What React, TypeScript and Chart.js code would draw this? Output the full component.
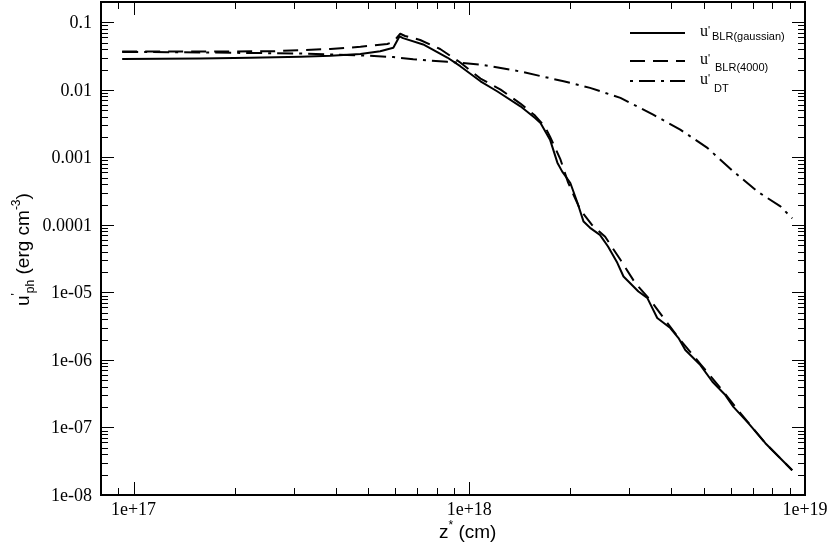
import React, { useEffect, useRef } from "react";
import { Chart, registerables } from "chart.js";

Chart.register(...registerables);

// ---------- axis ranges and tick labels ----------
const X_MIN = 8e16;
const X_MAX = 1e19;
const Y_MIN = 1e-8;
const Y_MAX = 0.2;

const xTickValues = [1e17, 1e18, 1e19];
const xTickLabels = ["1e+17", "1e+18", "1e+19"];
const yTickValues = [1e-8, 1e-7, 1e-6, 1e-5, 1e-4, 1e-3, 1e-2, 1e-1];
const yTickLabels = ["1e-08", "1e-07", "1e-06", "1e-05", "0.0001", "0.001", "0.01", "0.1"];

// ---------- series: u'BLR(gaussian) ----------
const gaussX = [
  9.25e16, 1.58e17, 2.23e17, 3.14e17, 3.86e17, 4.74e17, 5.43e17, 5.94e17, 6.2e17, 6.35e17,
  7.29e17, 8.6e17, 9.4e17, 1.08e18, 1.21e18, 1.42e18, 1.57e18, 1.63e18, 1.74e18, 1.83e18,
  1.89e18, 2.0e18, 2.1e18, 2.19e18, 2.29e18, 2.45e18, 2.59e18, 2.76e18, 2.88e18, 3.19e18,
  3.39e18, 3.63e18, 3.97e18, 4.2e18, 4.4e18, 4.88e18, 5.3e18, 5.79e18, 6.12e18, 6.78e18,
  7.62e18, 9.16e18,
];
const gaussY = [
  0.0286, 0.0292, 0.0299, 0.0309, 0.032, 0.034, 0.0374, 0.042, 0.062, 0.0583,
  0.047, 0.0301, 0.0224, 0.0134, 0.00953, 0.00571, 0.00384, 0.00324, 0.00183, 8.35e-4,
  6.2e-4, 4.17e-4, 2.13e-4, 1.12e-4, 9.05e-5, 7.13e-5, 4.78e-5, 2.74e-5, 1.72e-5, 1.03e-5,
  8.3e-6, 4.19e-6, 2.97e-6, 2.11e-6, 1.4e-6, 8.4e-7, 4.75e-7, 3.02e-7, 2.02e-7, 1.16e-7,
  5.85e-8, 2.33e-8,
];

// ---------- series: u'BLR(4000) ----------
const blr4000X = [
  9.25e16, 1.58e17, 2.56e17, 3.14e17, 3.86e17, 4.74e17, 5.7e17, 5.94e17, 6.23e17, 6.44e17,
  7.14e17, 8.19e17, 9.4e17, 1.08e18, 1.24e18, 1.42e18, 1.57e18, 1.68e18, 1.74e18, 1.87e18,
  1.97e18, 2.14e18, 2.32e18, 2.54e18, 2.82e18, 3.12e18, 3.46e18, 3.83e18, 4.25e18, 4.88e18,
  5.6e18, 6.42e18, 7.62e18, 9.16e18,
];
const blr4000Y = [
  0.037, 0.037, 0.0372, 0.0387, 0.0403, 0.0434, 0.0478, 0.0512, 0.0678, 0.0628,
  0.0548, 0.0403, 0.0254, 0.0147, 0.0101, 0.00626, 0.00416, 0.00285, 0.00203, 9.24e-4,
  4.22e-4, 1.68e-4, 1.0e-4, 6.67e-5, 3.04e-5, 1.38e-5, 7.74e-6, 3.91e-6, 1.98e-6, 8.7e-7,
  3.83e-7, 1.63e-7, 5.85e-8, 2.33e-8,
];

// ---------- series: u'DT ----------
const dtX = [
  9.25e16, 1.58e17, 3.14e17, 4.74e17, 5.94e17, 6.81e17, 8.6e17, 1.08e18, 1.42e18, 1.91e18,
  2.29e18, 2.82e18, 3.53e18, 4.25e18, 5.12e18, 6.12e18, 7.21e18, 8.45e18, 9.16e18,
];
const dtY = [
  0.0365, 0.0358, 0.0345, 0.0324, 0.0306, 0.0284, 0.026, 0.0237, 0.0187, 0.0134,
  0.0107, 0.0076, 0.0043, 0.00258, 0.00138, 6.19e-4, 3.13e-4, 1.88e-4, 1.25e-4,
];

const legendLabels = ["BLR(gaussian)", "BLR(4000)", "DT"];

const SANS = '"Liberation Sans", Arial, Helvetica, sans-serif';
const SERIF = '"Liberation Serif", "Times New Roman", Times, serif';

const DASHED = [15, 8];
const DASHDOT = [16, 6, 3, 6];

type Part = { t: string; s: number; f: string; dy?: number };

function drawRich(ctx: CanvasRenderingContext2D, parts: Part[], x: number, y: number) {
  let cx = x;
  for (const p of parts) {
    ctx.font = `${p.s}px ${p.f}`;
    ctx.fillText(p.t, cx, y + (p.dy || 0));
    cx += ctx.measureText(p.t).width;
  }
}

const zip = (xs: number[], ys: number[]) => xs.map((x, i) => ({ x, y: ys[i] }));

const decorPlugin = {
  id: "decor",
  afterDraw(chart: any) {
    const ctx: CanvasRenderingContext2D = chart.ctx;
    const { left, right, top, bottom } = chart.chartArea;
    const xs = chart.scales.x;
    const ys = chart.scales.y;
    ctx.save();
    ctx.strokeStyle = "#000";
    ctx.fillStyle = "#000";

    // inward ticks, all four sides
    ctx.lineWidth = 1;
    ctx.beginPath();
    for (let d = 16; d <= 19; d++) {
      for (let m = 1; m <= 9; m++) {
        const v = m * Math.pow(10, d);
        if (v < X_MIN * 0.999 || v > X_MAX * 1.001) continue;
        const px = Math.round(xs.getPixelForValue(v)) + 0.5;
        const len = m === 1 ? 13 : 7;
        ctx.moveTo(px, bottom);
        ctx.lineTo(px, bottom - len);
        ctx.moveTo(px, top);
        ctx.lineTo(px, top + len);
      }
    }
    for (let d = -8; d <= -1; d++) {
      for (let m = 1; m <= 9; m++) {
        const v = m * Math.pow(10, d);
        if (v < Y_MIN * 0.999 || v > Y_MAX * 1.001) continue;
        const py = Math.round(ys.getPixelForValue(v)) + 0.5;
        const len = m === 1 ? 13 : 7;
        ctx.moveTo(left, py);
        ctx.lineTo(left + len, py);
        ctx.moveTo(right, py);
        ctx.lineTo(right - len, py);
      }
    }
    ctx.stroke();

    // frame
    ctx.lineWidth = 2;
    ctx.strokeRect(left, top, right - left, bottom - top);

    // tick labels
    ctx.font = `18px ${SERIF}`;
    ctx.textBaseline = "alphabetic";
    ctx.textAlign = "center";
    xTickValues.forEach((v, i) => {
      ctx.fillText(xTickLabels[i], xs.getPixelForValue(v), bottom + 20);
    });
    ctx.textAlign = "right";
    yTickValues.forEach((v, i) => {
      ctx.fillText(yTickLabels[i], left - 9, ys.getPixelForValue(v) + 6);
    });

    // axis titles
    ctx.textAlign = "left";
    drawRich(
      ctx,
      [
        { t: "z", s: 19, f: SANS },
        { t: "*", s: 12, f: SANS, dy: -9 },
        { t: " (cm)", s: 19, f: SANS },
      ],
      439,
      538
    );
    ctx.save();
    ctx.translate(29, 306);
    ctx.rotate(-Math.PI / 2);
    drawRich(
      ctx,
      [
        { t: "u", s: 19, f: SANS },
        { t: "'", s: 12, f: SANS, dy: -9 },
        { t: "ph", s: 12, f: SANS, dy: 5 },
        { t: " (erg cm", s: 19, f: SANS },
        { t: "-3", s: 12, f: SANS, dy: -9 },
        { t: ")", s: 19, f: SANS },
      ],
      0,
      0
    );
    ctx.restore();

    // legend
    const rows = [
      { y: 33, dash: [] as number[], subX: 712, subY: 40 },
      { y: 61, dash: DASHED, subX: 715, subY: 70.5 },
      { y: 81, dash: [3, 6, 16, 6], subX: 714, subY: 92 },
    ];
    rows.forEach((r, i) => {
      ctx.lineWidth = 2;
      ctx.setLineDash(r.dash);
      ctx.beginPath();
      ctx.moveTo(630, r.y);
      ctx.lineTo(685, r.y);
      ctx.stroke();
      ctx.setLineDash([]);
      ctx.font = `16px ${SERIF}`;
      ctx.fillText("u", 700, r.y + 2.5);
      ctx.font = `11px ${SANS}`;
      ctx.fillText("'", 708, r.y + 1);
      ctx.fillText(legendLabels[i], r.subX, r.subY);
    });

    ctx.restore();
  },
};

export default function App() {
  const ref = useRef<HTMLCanvasElement>(null);
  useEffect(() => {
    if (!ref.current) return;
    const common = {
      borderColor: "#000",
      borderWidth: 2,
      pointRadius: 0,
      fill: false,
      tension: 0,
      borderJoinStyle: "round" as const,
    };
    const chart = new Chart(ref.current, {
      type: "line",
      data: {
        datasets: [
          { label: "u'BLR(gaussian)", data: zip(gaussX, gaussY), ...common },
          { label: "u'BLR(4000)", data: zip(blr4000X, blr4000Y), ...common, borderDash: DASHED },
          { label: "u'DT", data: zip(dtX, dtY), ...common, borderDash: DASHDOT },
        ],
      },
      options: {
        animation: false,
        responsive: false,
        maintainAspectRatio: false,
        events: [],
        layout: { padding: { left: 101, right: 25, top: 2, bottom: 55 } },
        plugins: { legend: { display: false }, tooltip: { enabled: false } },
        scales: {
          x: { type: "logarithmic", min: X_MIN, max: X_MAX, display: false },
          y: { type: "logarithmic", min: Y_MIN, max: Y_MAX, display: false },
        },
      },
      plugins: [decorPlugin],
    });
    return () => chart.destroy();
  }, []);
  return (
    <div style={{ position: "fixed", left: 0, top: 0, width: 830, height: 550, background: "#fff" }}>
      <canvas ref={ref} width={830} height={550} style={{ display: "block", width: 830, height: 550 }} />
    </div>
  );
}
